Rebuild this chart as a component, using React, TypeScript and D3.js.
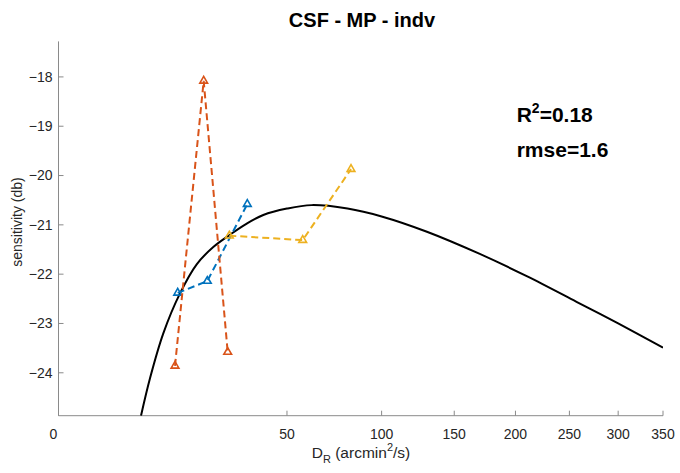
import React from "react";
import * as d3 from "d3";

const xTicks = [0, 50, 100, 150, 200, 250, 300, 350];
const yTicks = [-24, -23, -22, -21, -20, -19, -18];

const blueX = [13.61, 21.21, 34.14];
const blueY = [-22.38, -22.14, -20.58];
const orangeX = [13.0, 20.19, 27.42];
const orangeY = [-23.86, -18.08, -23.58];
const yellowX = [27.94, 57.12, 81.95];
const yellowY = [-21.22, -21.31, -19.87];

const fitX = [6.52, 8.02, 10.52, 14.14, 18.29, 22.95, 28.17, 33.5, 40.17, 50, 61.4, 80, 100, 130, 170, 210, 257, 300, 350];
const fitY = [-24.87, -24.11, -23.2, -22.39, -21.8, -21.45, -21.2, -20.99, -20.8, -20.67, -20.6, -20.67, -20.83, -21.14, -21.59, -22.04, -22.56, -23.0, -23.49];

const W = 680;
const H = 473;
const left = 58.5;
const right = 663;
const top = 41.4;
const bottom = 415.7;

export default function App() {
  const x = d3.scaleSqrt().domain([0, 350]).range([left, right]);
  const y = d3.scaleLinear().domain([-24.87, -17.28]).range([bottom, top]);

  const line = d3
    .line<[number, number]>()
    .x((d) => x(d[0]))
    .y((d) => y(d[1]));
  const smooth = d3
    .line<[number, number]>()
    .x((d) => x(d[0]))
    .y((d) => y(d[1]))
    .curve(d3.curveCatmullRom.alpha(0.5));

  const tri = d3.symbol().type(d3.symbolTriangle).size(26)();

  const series = [
    { xs: blueX, ys: blueY, color: "#0072BD" },
    { xs: orangeX, ys: orangeY, color: "#D95319" },
    { xs: yellowX, ys: yellowY, color: "#EDB120" },
  ];

  const fitPts: [number, number][] = fitX.map((v, i) => [v, fitY[i]]);
  const font = "'Liberation Sans', Arial, Helvetica, sans-serif";
  const textColor = "#262626";
  const axisColor = "#8a8a8a";

  return (
    <div style={{ position: "absolute", left: 0, top: 0 }}>
      <svg width={W} height={H} style={{ display: "block", background: "#fff" }} fontFamily={font}>
        <rect x={0} y={0} width={W} height={H} fill="#fff" />
        <defs>
          <clipPath id="plotclip">
            <rect x={left} y={top} width={right - left} height={bottom - top} />
          </clipPath>
        </defs>
        <line x1={left} x2={left} y1={top} y2={bottom} stroke={axisColor} strokeWidth={1} />
        <line x1={left} x2={right} y1={bottom} y2={bottom} stroke={axisColor} strokeWidth={1} />
        {xTicks.map((t) => (
          <g key={"xt" + t}>
            <line x1={x(t)} x2={x(t)} y1={bottom} y2={bottom - 5} stroke={axisColor} strokeWidth={1} />
            <text x={x(t) - (t === 0 ? 5 : 0)} y={bottom + 23} textAnchor="middle" fontSize={14} fill={textColor}>
              {t}
            </text>
          </g>
        ))}
        {yTicks.map((t) => (
          <g key={"yt" + t}>
            <line x1={left} x2={left + 5} y1={y(t)} y2={y(t)} stroke={axisColor} strokeWidth={1} />
            <text x={left - 6} y={y(t)} dy="0.35em" textAnchor="end" fontSize={14} fill={textColor}>
              {"\u2212" + Math.abs(t)}
            </text>
          </g>
        ))}
        <g clipPath="url(#plotclip)">
          <path d={smooth(fitPts) || ""} fill="none" stroke="#000" strokeWidth={2} />
          {series.map((s, si) => {
            const pts: [number, number][] = s.xs.map((v, i) => [v, s.ys[i]]);
            return (
              <g key={"s" + si}>
                <path d={line(pts) || ""} fill="none" stroke={s.color} strokeWidth={2} strokeDasharray="7,4" />
                {pts.map((p, i) => (
                  <path
                    key={i}
                    d={tri || ""}
                    transform={`translate(${x(p[0])},${y(p[1])})`}
                    fill="none"
                    stroke={s.color}
                    strokeWidth={1.6}
                  />
                ))}
              </g>
            );
          })}
        </g>
        <text x={362} y={26.7} textAnchor="middle" fontSize={20} fontWeight="bold" fill="#000">
          CSF - MP - indv
        </text>
        <text x={516.7} y={121.7} fontSize={21} fontWeight="bold" fill="#000">
          R
          <tspan fontSize={14} dy={-9}>2</tspan>
          <tspan dy={9}>=0.18</tspan>
        </text>
        <text x={516.7} y={156.7} fontSize={21} fontWeight="bold" fill="#000">
          rmse=1.6
        </text>
        <text x={361} y={458} textAnchor="middle" fontSize={15.5} fill={textColor}>
          D
          <tspan fontSize={11} dy={5}>R</tspan>
          <tspan dy={-5}> (arcmin</tspan>
          <tspan fontSize={11} dy={-7}>2</tspan>
          <tspan dy={7}>/s)</tspan>
        </text>
        <text
          transform={`translate(${22},${222}) rotate(-90)`}
          textAnchor="middle"
          fontSize={14}
          fill={textColor}
        >
          sensitivity (db)
        </text>
      </svg>
    </div>
  );
}
